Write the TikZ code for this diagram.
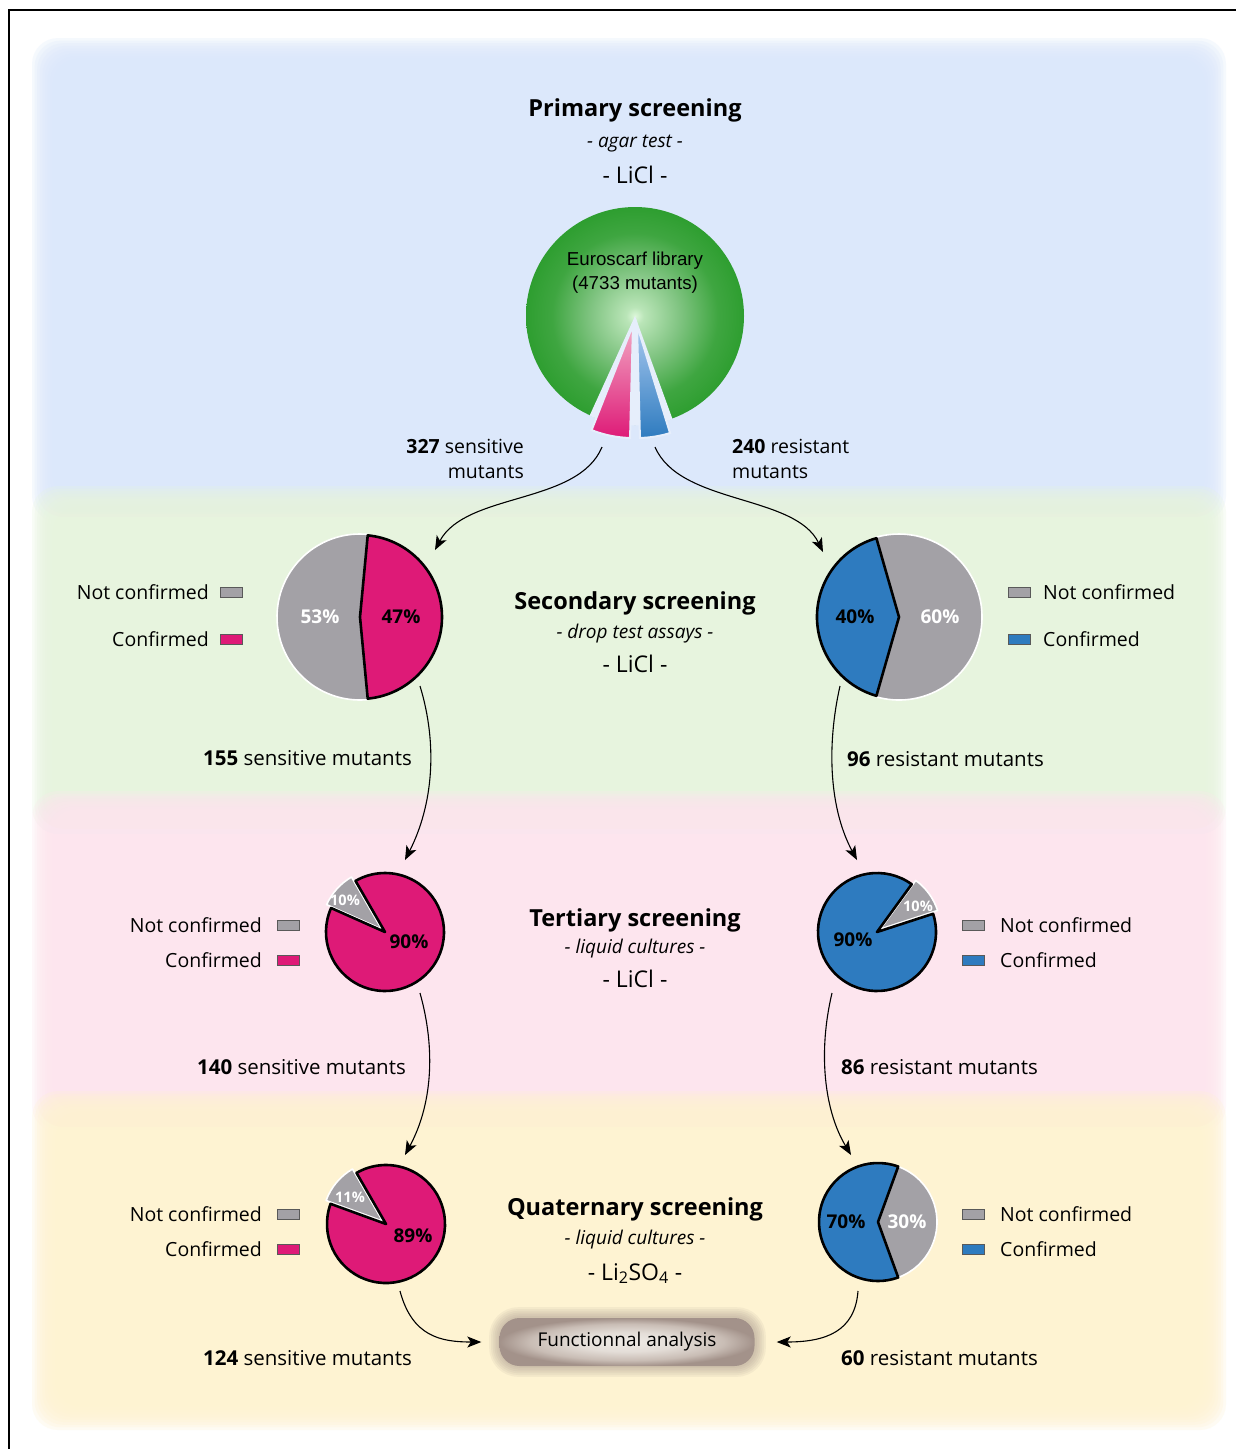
\documentclass[tikz,border=0pt]{standalone}
\usepackage{fontspec}
\setmainfont{Open Sans}
\newfontfamily\arialf{Liberation Sans}
\usetikzlibrary{arrows.meta,calc}

\definecolor{pinkC}{HTML}{DE1A77}
\definecolor{pinkL}{HTML}{F2A9C4}
\definecolor{blueC}{HTML}{2E7BBF}
\definecolor{blueL}{HTML}{A9C9EF}
\definecolor{grayC}{HTML}{A3A1A6}
\definecolor{bandBlue}{HTML}{DCE8FB}
\definecolor{bandGreen}{HTML}{E7F4DE}
\definecolor{bandPink}{HTML}{FDE5EE}
\definecolor{bandYellow}{HTML}{FEF3D2}
\definecolor{gball}{HTML}{2E9E30}
\definecolor{gballC}{HTML}{DDF7DA}
\definecolor{gapC}{HTML}{E6EEFB}
\definecolor{faC}{HTML}{EFEBE6}
\definecolor{faM}{HTML}{C9BDB5}
\definecolor{faE}{HTML}{A3928A}

\pgfdeclareradialshading{greenball}{\pgfpoint{0bp}{0bp}}{color(0bp)=(gballC); color(2bp)=(gballC!80!gball); color(10bp)=(gball!60!white); color(19bp)=(gball!92!white); color(25bp)=(gball); color(50bp)=(gball)}
\pgfdeclareradialshading{fashade}{\pgfpoint{0bp}{0bp}}{color(0bp)=(faC); color(10bp)=(faC!70!faM); color(19bp)=(faM); color(25bp)=(faE); color(50bp)=(faE)}

\newcommand\pieslice[5]{%
  \path[#5] (#1) -- ++({-1*(#2)}:#4) arc[start angle={-1*(#2)}, end angle={-1*(#3)}, radius=#4] -- cycle;}
\newcommand\bandrect[5]{%
  \foreach \k in {0,...,11}{%
    \fill[#1, opacity=0.26, rounded corners=26pt] ({#2+\k*2.6},{#3+\k*2.6}) rectangle ({#4-\k*2.6},{#5-\k*2.6});}}

\tikzset{
  title/.style={font=\fontsize{23.5}{28}\selectfont\bfseries, anchor=base, inner sep=0pt},
  subt/.style={font=\fontsize{19}{22}\selectfont\itshape, anchor=base, inner sep=0pt},
  salt/.style={font=\fontsize{23}{26}\selectfont, anchor=base, inner sep=0pt},
  lbl/.style={font=\fontsize{19.5}{24}\selectfont, inner sep=0pt},
  lblb/.style={font=\fontsize{20.5}{24}\selectfont, inner sep=0pt},
  pct/.style={font=\fontsize{19}{22}\selectfont\bfseries, inner sep=0pt},
  pcts/.style={font=\fontsize{14.5}{16}\selectfont\bfseries, inner sep=0pt, text=white},
  lbox/.style={draw=black!65, line width=0.8pt, minimum width=22pt, minimum height=10pt, inner sep=0pt},
  arr/.style={-{Stealth[length=14pt,width=11pt,inset=3.5pt]}, line width=1.1pt},
  slc/.style={draw=black, line width=2.6pt, line join=round},
  gsl/.style={fill=grayC, draw=white, line width=1.6pt, line join=round},
}

\begin{document}
\begin{tikzpicture}[x=1pt,y=-1pt]
\useasboundingbox (0,0) rectangle (1236,1449);
\fill[white] (0,0) rectangle (1236,1449);

% background bands
\bandrect{bandBlue}{32}{38}{1226}{522}
\bandrect{bandGreen}{32}{486}{1226}{834}
\bandrect{bandPink}{32}{791}{1226}{1132}
\bandrect{bandYellow}{32}{1091}{1226}{1430}

% frame
\draw[line width=2pt] (9,1449) -- (9,10) -- (1236,10);

% ---------- Primary ----------
\node[title] (t1) at (635,116) {Primary screening};
\node[subt] (s1) at (635,147.5) {- agar test -};
\node[salt] (l1) at (635,183) {- LiCl -};

\coordinate (lib) at (635,316);
\shade[shading=greenball] (lib) circle[radius=109];
\pieslice{lib}{245.5}{290}{109.5}{fill=gapC}
\coordinate (pk) at (633,325);
\coordinate (bl) at (637,325);
\pieslice{pk}{248.5}{268.5}{113}{top color=pinkL, bottom color=pinkC, draw=gapC, line width=2pt}
\pieslice{bl}{271.5}{287}{113}{top color=blueL, bottom color=blueC, draw=gapC, line width=2pt}
\node[font=\arialf\fontsize{18.7}{24}\selectfont, align=center, anchor=base] (libtxt) at (635,289.5) {Euroscarf library\\(4733 mutants)};

\node[lbl, anchor=base east] (sens1) at (524,453) {\textbf{327} sensitive};
\node[lbl, anchor=base east] (sens1b) at (524,478) {mutants};
\node[lbl, anchor=base west] (res1) at (732,453) {\textbf{240} resistant};
\node[lbl, anchor=base west] (res1b) at (732,478) {mutants};

\coordinate (a1s) at (602,447);
\coordinate (a1e) at (435,550);
\coordinate (a2s) at (655,447);
\coordinate (a2e) at (823,552);
\draw[arr] (a1s) .. controls (578,505) and (466,492) .. (a1e);
\draw[arr] (a2s) .. controls (680,505) and (795,494) .. (a2e);

% ---------- Secondary ----------
\node[title] (t2) at (635,609) {Secondary screening};
\node[subt] (s2) at (635,638.5) {- drop test assays -};
\node[salt] (l2) at (635,672) {- LiCl -};

\coordinate (p2l) at (360,617);
\pieslice{p2l}{84.6}{275.4}{83}{gsl}
\pieslice{p2l}{-84.6}{84.6}{82}{slc, fill=pinkC}
\node[pct, text=white] at (320,617) {53\%};
\node[pct] at (401,617) {47\%};

\coordinate (p2r) at (899,617);
\pieslice{p2r}{-106}{106}{83}{gsl}
\pieslice{p2r}{106}{254}{82}{slc, fill=blueC}
\node[pct] at (855,617) {40\%};
\node[pct, text=white] at (940,617) {60\%};

\node[lbl, anchor=base east] at (209,599) {Not confirmed};
\node[lbl, anchor=base east] at (209,646) {Confirmed};
\node[lbox, fill=grayC] at (231,592) {};
\node[lbox, fill=pinkC] at (231,639) {};
\node[lbox, fill=grayC] at (1019,592) {};
\node[lbox, fill=blueC] at (1019,639) {};
\node[lbl, anchor=base west] at (1043,599) {Not confirmed};
\node[lbl, anchor=base west] at (1043,646) {Confirmed};

\node[lblb, anchor=base east] (sens2) at (412,765) {\textbf{155} sensitive mutants};
\node[lblb, anchor=base west] (res2) at (847,766) {\textbf{96} resistant mutants};

\coordinate (b1s) at (420,686);
\coordinate (b1e) at (405,860);
\coordinate (b2s) at (840,686);
\coordinate (b2e) at (857,860);
\draw[arr] (b1s) .. controls (438,745) and (433,805) .. (b1e);
\draw[arr] (b2s) .. controls (826,748) and (830,810) .. (b2e);

% ---------- Tertiary ----------
\node[title] (t3) at (635,926) {Tertiary screening};
\node[subt] (s3) at (635,953.5) {- liquid cultures -};
\node[salt] (l3) at (635,987) {- LiCl -};

\coordinate (p3l) at (385,932);
\coordinate (p3lx) at (381.5,929);
\pieslice{p3lx}{120}{156}{60}{gsl}
\pieslice{p3l}{156}{480}{59}{slc, fill=pinkC}
\node[pcts] at (345,900) {10\%};
\node[pct] at (409,942) {90\%};

\coordinate (p3r) at (877,932);
\coordinate (p3rx) at (880.5,929);
\pieslice{p3rx}{18}{54}{60}{gsl}
\pieslice{p3r}{54}{378}{59}{slc, fill=blueC}
\node[pcts] at (918,906) {10\%};
\node[pct] at (853,940) {90\%};

\node[lbl, anchor=base east] at (262,932) {Not confirmed};
\node[lbl, anchor=base east] at (262,967) {Confirmed};
\node[lbox, fill=grayC] at (288,925) {};
\node[lbox, fill=pinkC] at (288,960) {};
\node[lbox, fill=grayC] at (973,925) {};
\node[lbox, fill=blueC] at (973,960) {};
\node[lbl, anchor=base west] at (1000,932) {Not confirmed};
\node[lbl, anchor=base west] at (1000,967) {Confirmed};

\node[lblb, anchor=base east] (sens3) at (406,1074) {\textbf{140} sensitive mutants};
\node[lblb, anchor=base west] (res3) at (841,1074) {\textbf{86} resistant mutants};

\coordinate (c1s) at (420,993);
\coordinate (c1e) at (405,1155);
\coordinate (c2s) at (832,993);
\coordinate (c2e) at (851,1155);
\draw[arr] (c1s) .. controls (436,1050) and (432,1105) .. (c1e);
\draw[arr] (c2s) .. controls (818,1052) and (824,1110) .. (c2e);

% ---------- Quaternary ----------
\node[title] (t4) at (635,1215) {Quaternary screening};
\node[subt] (s4) at (635,1244.5) {- liquid cultures -};
\node[salt] (l4) at (635,1280) {- Li\textsubscript{2}SO\textsubscript{4} -};

\coordinate (p4l) at (386,1224);
\coordinate (p4lx) at (382.5,1221);
\pieslice{p4lx}{120}{160}{60}{gsl}
\pieslice{p4l}{160}{480}{59}{slc, fill=pinkC}
\node[pcts] at (350,1197) {11\%};
\node[pct] at (413,1236) {89\%};

\coordinate (p4r) at (878,1222);
\pieslice{p4r}{-70}{70}{59}{gsl}
\pieslice{p4r}{70}{290}{59}{slc, fill=blueC}
\node[pct] at (846,1222) {70\%};
\node[pct, text=white] at (907,1222) {30\%};

\node[lbl, anchor=base east] at (262,1221) {Not confirmed};
\node[lbl, anchor=base east] at (262,1256) {Confirmed};
\node[lbox, fill=grayC] at (288,1214) {};
\node[lbox, fill=pinkC] at (288,1249) {};
\node[lbox, fill=grayC] at (973,1214) {};
\node[lbox, fill=blueC] at (973,1249) {};
\node[lbl, anchor=base west] at (1000,1221) {Not confirmed};
\node[lbl, anchor=base west] at (1000,1256) {Confirmed};

\node[lblb, anchor=base east] (sens4) at (412,1365) {\textbf{124} sensitive mutants};
\node[lblb, anchor=base west] (res4) at (841,1365) {\textbf{60} resistant mutants};

% functional analysis
\foreach \k in {1,...,6}{%
  \fill[faE, opacity=0.10, rounded corners={20pt+\k*1.5pt}] ({500-\k*1.8},{1318-\k*1.8}) rectangle ({755+\k*1.8},{1366+\k*1.8});}
\node[shading=fashade, rounded corners=20pt, minimum width=255pt, minimum height=48pt,
      font=\fontsize{19}{22}\selectfont, inner sep=0pt] (fa) at (627,1342) {Functionnal analysis};

\coordinate (d1s) at (400,1291);
\coordinate (d2s) at (858,1291);
\draw[arr, shorten >=18pt] (d1s) .. controls (412,1336) and (440,1342) .. (fa.west);
\draw[arr, shorten >=22pt] (d2s) .. controls (855,1332) and (825,1342) .. (fa.east);
\end{tikzpicture}
\end{document}
